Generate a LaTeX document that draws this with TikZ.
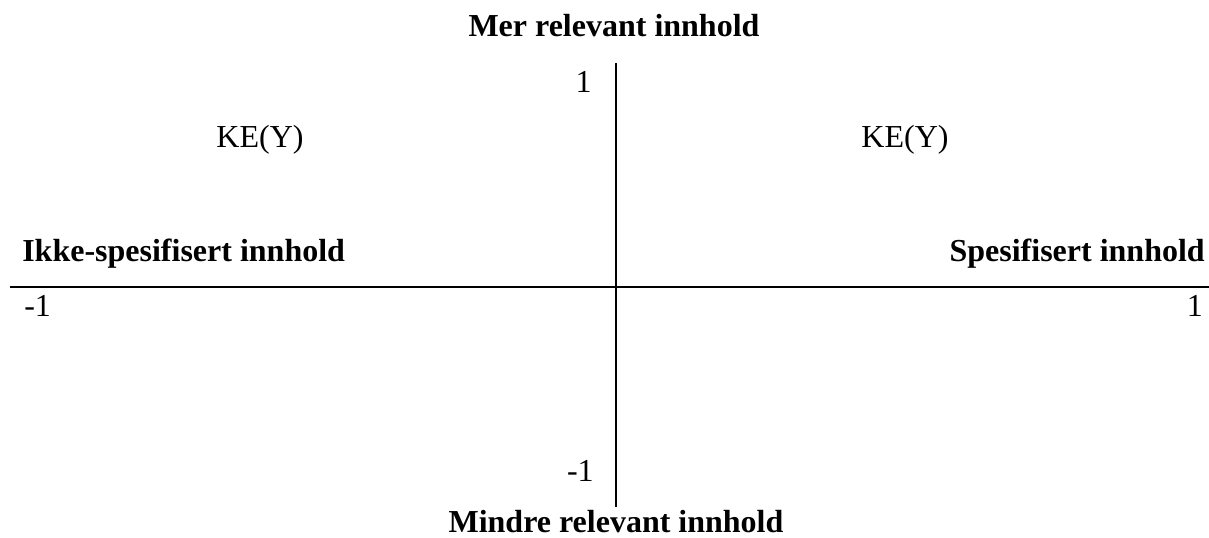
\documentclass[tikz,border=0pt]{standalone}
\usepackage{fontspec}
\setmainfont{Liberation Serif}
\begin{document}
\begin{tikzpicture}[x=0.75pt,y=-0.75pt,
  lbl/.style={inner sep=0pt,font=\fontsize{24pt}{28pt}\selectfont},
  blbl/.style={inner sep=0pt,font=\fontsize{24pt}{28pt}\selectfont\bfseries},
  axis/.style={line width=1.5pt,black}]
\useasboundingbox (0,0) rectangle (1209,538);
% axes
\coordinate (vtop) at (616,63);
\coordinate (vbot) at (616,507);
\coordinate (hl) at (10,287);
\coordinate (hr) at (1209,287);
\draw[axis] (vtop) -- (vbot);
\draw[axis] (hl) -- (hr);
% labels
\node[blbl,anchor=base] (top) at (614,37) {Mer relevant innhold};
\node[blbl,anchor=base] (bot) at (616,532) {Mindre relevant innhold};
\node[blbl,anchor=base west] (left) at (22,262) {Ikke-spesifisert innhold};
\node[blbl,anchor=base east] (right) at (1205,262) {Spesifisert innhold};
\node[lbl,anchor=base east] (ytop) at (592,93) {1};
\node[lbl,anchor=base east] (ybot) at (594,481) {-1};
\node[lbl,anchor=base west] (xl) at (24,316) {-1};
\node[lbl,anchor=base east] (xr) at (1203,316) {1};
\node[lbl,anchor=base] (ke1) at (260,148) {KE(Y)};
\node[lbl,anchor=base] (ke2) at (905,148) {KE(Y)};
\end{tikzpicture}
\end{document}
